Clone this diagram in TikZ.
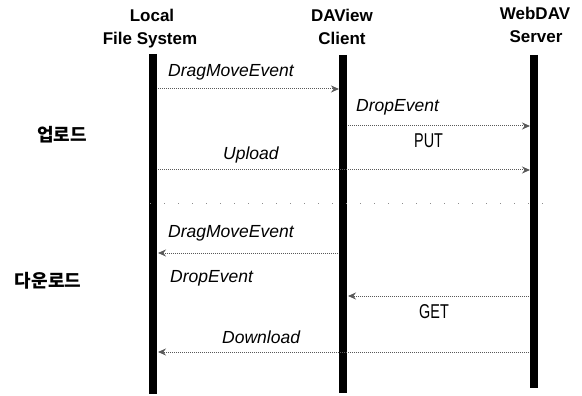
\documentclass[tikz,border=0pt]{standalone}
\usepackage{fontspec}
\setmainfont{Liberation Sans}
\newfontfamily\krfont{Noto Sans CJK KR}
\usetikzlibrary{arrows.meta}
\begin{document}
\begin{tikzpicture}[x=1pt,y=-1pt,
  lifeline/.style={line width=8pt,black},
  hdr/.style={font=\fontsize{17}{17}\selectfont\bfseries,anchor=base,inner sep=0pt},
  lbl/.style={font=\fontsize{17.5}{17.5}\selectfont\itshape,anchor=base west,inner sep=0pt},
  cmd/.style={font=\fontsize{20}{20}\selectfont,anchor=base west,inner sep=0pt},
  phase/.style={font=\fontsize{18}{18}\selectfont\krfont\bfseries,inner sep=0pt},
  msg/.style={draw=black!65,line width=1pt,dash pattern=on 1pt off 1pt,
    -{Stealth[length=8pt,width=7pt,fill=black!65]}},
  sep/.style={draw=black!45,line width=0.8pt,dash pattern=on 1pt off 13pt}]
\useasboundingbox (0,0) rectangle (582,396);

% headers
\node[hdr] (h1a) at (152,22) {Local};
\node[hdr] (h1b) at (150,45) {File System};
\node[hdr] (h2a) at (342,22) {DAView};
\node[hdr] (h2b) at (342,45) {Client};
\node[hdr] (h3a) at (535,20) {WebDAV};
\node[hdr] (h3b) at (536,43) {Server};

% lifelines
\coordinate (Lt) at (153,54);  \coordinate (Lb) at (153,394);
\coordinate (Dt) at (343,55);  \coordinate (Db) at (343,393);
\coordinate (Wt) at (534,55);  \coordinate (Wb) at (534,388);
\draw[lifeline] (Lt) -- (Lb);
\draw[lifeline] (Dt) -- (Db);
\draw[lifeline] (Wt) -- (Wb);

% phase labels
\node[phase] (up) at (62,135) {업로드};
\node[phase] (down) at (48,281) {다운로드};

% message end points
\coordinate (m1s) at (158,89);  \coordinate (m1e) at (339,89);
\coordinate (m2s) at (348,126); \coordinate (m2e) at (530,126);
\coordinate (m3s) at (158,170); \coordinate (m3e) at (530,170);
\coordinate (s1) at (150,203);  \coordinate (s2) at (545,203);
\coordinate (m5s) at (338,253); \coordinate (m5e) at (158,253);
\coordinate (m6s) at (529,296); \coordinate (m6e) at (348,296);
\coordinate (m7s) at (529,352); \coordinate (m7e) at (158,352);

% messages
\draw[msg] (m1s) -- (m1e);
\draw[msg] (m2s) -- (m2e);
\draw[msg] (m3s) -- (m3e);
\draw[sep] (s1) -- (s2);
\draw[msg] (m5s) -- (m5e);
\draw[msg] (m6s) -- (m6e);
\draw[msg] (m7s) -- (m7e);

% labels
\node[lbl] (t1) at (168,77) {DragMoveEvent};
\node[lbl] (t2) at (356,112) {DropEvent};
\node[cmd] (t2b) at (414,148) {\scalebox{0.72}[1]{PUT}};
\node[lbl] (t3) at (223,160) {Upload};
\node[lbl] (t5) at (168,237) {DragMoveEvent};
\node[lbl] (t6) at (170,282) {DropEvent};
\node[cmd] (t6b) at (419,318) {\scalebox{0.72}[1]{GET}};
\node[lbl] (t7) at (222,343) {Download};
\end{tikzpicture}
\end{document}
